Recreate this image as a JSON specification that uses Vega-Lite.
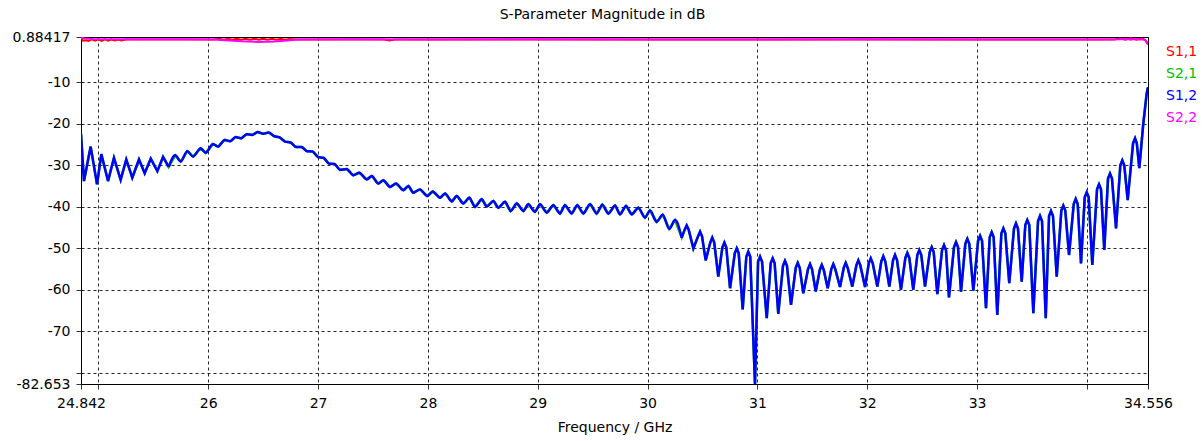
{
  "$schema": "https://vega.github.io/schema/vega-lite/v6.json",
  "width": 1067,
  "height": 347,
  "autosize": {"type": "none"},
  "padding": {"left": 81, "top": 37, "right": 54, "bottom": 57},
  "background": "#ffffff",
  "config": {
    "font": "DejaVu Sans",
    "view": {"stroke": "#000000", "strokeWidth": 1},
    "axis": {
      "labelFont": "DejaVu Sans", "labelFontSize": 14, "labelColor": "#000000",
      "titleFont": "DejaVu Sans", "titleFontSize": 14, "titleFontWeight": "normal", "titleColor": "#000000",
      "domainColor": "#000000", "tickColor": "#333333", "tickSize": 5,
      "grid": true, "gridColor": "#000000", "gridDash": [3, 3], "gridOpacity": 0.85, "gridWidth": 1,
      "labelOverlap": false, "labelFlush": false
    }
  },
  "title": {"text": "S-Parameter Magnitude in dB", "font": "DejaVu Sans", "fontSize": 14, "fontWeight": "normal", "color": "#000000", "anchor": "middle", "dx": -12, "offset": 8},
  "data": {"values": [
    {"f":24.842,"db":-22.4,"s":"S1,2"},{"f":24.869,"db":-33.8,"s":"S1,2"},{"f":24.930,"db":-25.5,"s":"S1,2"},{"f":24.988,"db":-34.6,"s":"S1,2"},
    {"f":25.027,"db":-27.3,"s":"S1,2"},{"f":25.088,"db":-33.8,"s":"S1,2"},{"f":25.142,"db":-28.2,"s":"S1,2"},{"f":25.203,"db":-33.5,"s":"S1,2"},
    {"f":25.254,"db":-28.6,"s":"S1,2"},{"f":25.309,"db":-33.0,"s":"S1,2"},{"f":25.370,"db":-28.6,"s":"S1,2"},{"f":25.422,"db":-31.9,"s":"S1,2"},
    {"f":25.477,"db":-28.4,"s":"S1,2"},{"f":25.537,"db":-31.4,"s":"S1,2"},{"f":25.589,"db":-28.0,"s":"S1,2"},{"f":25.640,"db":-30.4,"s":"S1,2"},
    {"f":25.700,"db":-27.6,"s":"S1,2"},{"f":25.750,"db":-29.1,"s":"S1,2"},{"f":25.810,"db":-26.6,"s":"S1,2"},{"f":25.862,"db":-27.9,"s":"S1,2"},
    {"f":25.932,"db":-25.9,"s":"S1,2"},{"f":25.977,"db":-27.0,"s":"S1,2"},{"f":26.044,"db":-24.9,"s":"S1,2"},{"f":26.089,"db":-25.5,"s":"S1,2"},
    {"f":26.150,"db":-23.9,"s":"S1,2"},{"f":26.20,"db":-24.2,"s":"S1,2"},{"f":26.25,"db":-23.2,"s":"S1,2"},{"f":26.30,"db":-23.5,"s":"S1,2"},
    {"f":26.35,"db":-22.5,"s":"S1,2"},{"f":26.40,"db":-22.7,"s":"S1,2"},{"f":26.45,"db":-22.0,"s":"S1,2"},{"f":26.50,"db":-22.4,"s":"S1,2"},
    {"f":26.55,"db":-22.1,"s":"S1,2"},{"f":26.60,"db":-23.0,"s":"S1,2"},{"f":26.65,"db":-23.3,"s":"S1,2"},{"f":26.70,"db":-24.3,"s":"S1,2"},
    {"f":26.75,"db":-24.5,"s":"S1,2"},{"f":26.80,"db":-25.6,"s":"S1,2"},{"f":26.85,"db":-25.6,"s":"S1,2"},{"f":26.90,"db":-26.6,"s":"S1,2"},
    {"f":26.95,"db":-26.7,"s":"S1,2"},{"f":27.00,"db":-28.0,"s":"S1,2"},{"f":27.05,"db":-28.2,"s":"S1,2"},{"f":27.10,"db":-29.6,"s":"S1,2"},
    {"f":27.15,"db":-29.7,"s":"S1,2"},{"f":27.20,"db":-31.1,"s":"S1,2"},{"f":27.261,"db":-30.9,"s":"S1,2"},{"f":27.321,"db":-32.4,"s":"S1,2"},
    {"f":27.376,"db":-31.8,"s":"S1,2"},{"f":27.443,"db":-33.4,"s":"S1,2"},{"f":27.489,"db":-32.6,"s":"S1,2"},{"f":27.549,"db":-34.4,"s":"S1,2"},
    {"f":27.594,"db":-33.6,"s":"S1,2"},{"f":27.655,"db":-35.2,"s":"S1,2"},{"f":27.710,"db":-34.4,"s":"S1,2"},{"f":27.776,"db":-36.0,"s":"S1,2"},
    {"f":27.822,"db":-35.0,"s":"S1,2"},{"f":27.867,"db":-36.6,"s":"S1,2"},{"f":27.928,"db":-35.8,"s":"S1,2"},{"f":27.995,"db":-37.4,"s":"S1,2"},
    {"f":28.044,"db":-36.3,"s":"S1,2"},{"f":28.110,"db":-37.8,"s":"S1,2"},{"f":28.156,"db":-36.8,"s":"S1,2"},{"f":28.217,"db":-38.7,"s":"S1,2"},
    {"f":28.262,"db":-37.4,"s":"S1,2"},{"f":28.323,"db":-39.2,"s":"S1,2"},{"f":28.377,"db":-37.8,"s":"S1,2"},{"f":28.429,"db":-40.0,"s":"S1,2"},
    {"f":28.490,"db":-38.2,"s":"S1,2"},{"f":28.536,"db":-39.9,"s":"S1,2"},{"f":28.596,"db":-38.6,"s":"S1,2"},{"f":28.641,"db":-40.2,"s":"S1,2"},
    {"f":28.702,"db":-38.8,"s":"S1,2"},{"f":28.754,"db":-41.0,"s":"S1,2"},{"f":28.809,"db":-39.2,"s":"S1,2"},{"f":28.869,"db":-41.0,"s":"S1,2"},
    {"f":28.914,"db":-39.4,"s":"S1,2"},{"f":28.975,"db":-41.2,"s":"S1,2"},{"f":29.021,"db":-39.4,"s":"S1,2"},{"f":29.082,"db":-41.4,"s":"S1,2"},
    {"f":29.142,"db":-39.6,"s":"S1,2"},{"f":29.203,"db":-41.6,"s":"S1,2"},{"f":29.248,"db":-39.6,"s":"S1,2"},{"f":29.309,"db":-41.6,"s":"S1,2"},
    {"f":29.360,"db":-39.6,"s":"S1,2"},{"f":29.415,"db":-41.6,"s":"S1,2"},{"f":29.476,"db":-39.4,"s":"S1,2"},{"f":29.537,"db":-41.6,"s":"S1,2"},
    {"f":29.588,"db":-39.5,"s":"S1,2"},{"f":29.643,"db":-41.6,"s":"S1,2"},{"f":29.704,"db":-39.7,"s":"S1,2"},{"f":29.749,"db":-41.8,"s":"S1,2"},
    {"f":29.804,"db":-39.8,"s":"S1,2"},{"f":29.856,"db":-41.8,"s":"S1,2"},{"f":29.916,"db":-40.2,"s":"S1,2"},{"f":29.977,"db":-42.6,"s":"S1,2"},
    {"f":30.022,"db":-40.9,"s":"S1,2"},{"f":30.083,"db":-43.6,"s":"S1,2"},{"f":30.138,"db":-41.9,"s":"S1,2"},{"f":30.198,"db":-45.3,"s":"S1,2"},
    {"f":30.250,"db":-43.2,"s":"S1,2"},{"f":30.311,"db":-47.4,"s":"S1,2"},
    {"f":30.338,"db":-45.5,"s":"S1,2"},{"f":30.356,"db":-44.5,"s":"S1,2"},{"f":30.374,"db":-45.5,"s":"S1,2"},{"f":30.417,"db":-50.0,"s":"S1,2"},
    {"f":30.460,"db":-47.1,"s":"S1,2"},{"f":30.478,"db":-46.0,"s":"S1,2"},{"f":30.496,"db":-47.1,"s":"S1,2"},{"f":30.529,"db":-52.9,"s":"S1,2"},
    {"f":30.571,"db":-48.6,"s":"S1,2"},{"f":30.589,"db":-47.4,"s":"S1,2"},{"f":30.607,"db":-48.6,"s":"S1,2"},{"f":30.644,"db":-56.8,"s":"S1,2"},
    {"f":30.681,"db":-49.8,"s":"S1,2"},{"f":30.699,"db":-48.6,"s":"S1,2"},{"f":30.717,"db":-49.8,"s":"S1,2"},{"f":30.751,"db":-59.6,"s":"S1,2"},
    {"f":30.794,"db":-51.2,"s":"S1,2"},{"f":30.812,"db":-50.0,"s":"S1,2"},{"f":30.830,"db":-51.2,"s":"S1,2"},{"f":30.866,"db":-64.7,"s":"S1,2"},
    {"f":30.899,"db":-52.0,"s":"S1,2"},{"f":30.917,"db":-50.8,"s":"S1,2"},{"f":30.935,"db":-52.0,"s":"S1,2"},{"f":30.978,"db":-82.653,"s":"S1,2"},
    {"f":31.006,"db":-53.2,"s":"S1,2"},{"f":31.024,"db":-52.0,"s":"S1,2"},{"f":31.042,"db":-53.2,"s":"S1,2"},{"f":31.085,"db":-66.8,"s":"S1,2"},
    {"f":31.121,"db":-53.6,"s":"S1,2"},{"f":31.139,"db":-52.4,"s":"S1,2"},{"f":31.157,"db":-53.6,"s":"S1,2"},{"f":31.190,"db":-65.8,"s":"S1,2"},
    {"f":31.233,"db":-54.2,"s":"S1,2"},{"f":31.251,"db":-53.0,"s":"S1,2"},{"f":31.269,"db":-54.2,"s":"S1,2"},{"f":31.306,"db":-63.6,"s":"S1,2"},
    {"f":31.349,"db":-54.7,"s":"S1,2"},{"f":31.367,"db":-53.5,"s":"S1,2"},{"f":31.385,"db":-54.7,"s":"S1,2"},{"f":31.418,"db":-60.8,"s":"S1,2"},
    {"f":31.461,"db":-55.0,"s":"S1,2"},{"f":31.479,"db":-53.8,"s":"S1,2"},{"f":31.497,"db":-55.0,"s":"S1,2"},{"f":31.531,"db":-60.4,"s":"S1,2"},
    {"f":31.568,"db":-55.2,"s":"S1,2"},{"f":31.586,"db":-54.0,"s":"S1,2"},{"f":31.604,"db":-55.2,"s":"S1,2"},{"f":31.640,"db":-59.6,"s":"S1,2"},
    {"f":31.673,"db":-55.0,"s":"S1,2"},{"f":31.691,"db":-53.8,"s":"S1,2"},{"f":31.709,"db":-55.0,"s":"S1,2"},{"f":31.752,"db":-59.3,"s":"S1,2"},
    {"f":31.786,"db":-54.7,"s":"S1,2"},{"f":31.804,"db":-53.5,"s":"S1,2"},{"f":31.822,"db":-54.7,"s":"S1,2"},{"f":31.864,"db":-59.2,"s":"S1,2"},
    {"f":31.901,"db":-54.1,"s":"S1,2"},{"f":31.919,"db":-52.9,"s":"S1,2"},{"f":31.937,"db":-54.1,"s":"S1,2"},{"f":31.980,"db":-59.3,"s":"S1,2"},
    {"f":32.014,"db":-53.6,"s":"S1,2"},{"f":32.032,"db":-52.4,"s":"S1,2"},{"f":32.050,"db":-53.6,"s":"S1,2"},{"f":32.092,"db":-59.2,"s":"S1,2"},
    {"f":32.128,"db":-53.1,"s":"S1,2"},{"f":32.146,"db":-51.9,"s":"S1,2"},{"f":32.164,"db":-53.1,"s":"S1,2"},{"f":32.201,"db":-59.2,"s":"S1,2"},
    {"f":32.235,"db":-52.8,"s":"S1,2"},{"f":32.253,"db":-51.6,"s":"S1,2"},{"f":32.271,"db":-52.8,"s":"S1,2"},{"f":32.307,"db":-60.0,"s":"S1,2"},
    {"f":32.347,"db":-52.3,"s":"S1,2"},{"f":32.365,"db":-51.1,"s":"S1,2"},{"f":32.383,"db":-52.3,"s":"S1,2"},{"f":32.419,"db":-60.0,"s":"S1,2"},
    {"f":32.456,"db":-51.6,"s":"S1,2"},{"f":32.474,"db":-50.4,"s":"S1,2"},{"f":32.492,"db":-51.6,"s":"S1,2"},{"f":32.526,"db":-59.2,"s":"S1,2"},
    {"f":32.569,"db":-50.9,"s":"S1,2"},{"f":32.587,"db":-49.7,"s":"S1,2"},{"f":32.605,"db":-50.9,"s":"S1,2"},{"f":32.638,"db":-61.0,"s":"S1,2"},
    {"f":32.681,"db":-50.4,"s":"S1,2"},{"f":32.699,"db":-49.2,"s":"S1,2"},{"f":32.717,"db":-50.4,"s":"S1,2"},{"f":32.744,"db":-61.8,"s":"S1,2"},
    {"f":32.790,"db":-49.7,"s":"S1,2"},{"f":32.808,"db":-48.5,"s":"S1,2"},{"f":32.826,"db":-49.7,"s":"S1,2"},{"f":32.854,"db":-60.4,"s":"S1,2"},
    {"f":32.893,"db":-48.9,"s":"S1,2"},{"f":32.911,"db":-47.7,"s":"S1,2"},{"f":32.929,"db":-48.9,"s":"S1,2"},{"f":32.966,"db":-60.2,"s":"S1,2"},
    {"f":33.009,"db":-48.2,"s":"S1,2"},{"f":33.027,"db":-47.0,"s":"S1,2"},{"f":33.045,"db":-48.2,"s":"S1,2"},{"f":33.081,"db":-64.4,"s":"S1,2"},
    {"f":33.115,"db":-47.3,"s":"S1,2"},{"f":33.133,"db":-46.1,"s":"S1,2"},{"f":33.151,"db":-47.3,"s":"S1,2"},{"f":33.184,"db":-66.0,"s":"S1,2"},
    {"f":33.221,"db":-46.4,"s":"S1,2"},{"f":33.239,"db":-45.2,"s":"S1,2"},{"f":33.257,"db":-46.4,"s":"S1,2"},{"f":33.293,"db":-58.4,"s":"S1,2"},
    {"f":33.336,"db":-45.2,"s":"S1,2"},{"f":33.354,"db":-44.0,"s":"S1,2"},{"f":33.372,"db":-45.2,"s":"S1,2"},{"f":33.406,"db":-58.0,"s":"S1,2"},
    {"f":33.439,"db":-44.4,"s":"S1,2"},{"f":33.457,"db":-43.2,"s":"S1,2"},{"f":33.475,"db":-44.4,"s":"S1,2"},{"f":33.512,"db":-65.6,"s":"S1,2"},
    {"f":33.555,"db":-43.4,"s":"S1,2"},{"f":33.573,"db":-42.2,"s":"S1,2"},{"f":33.591,"db":-43.4,"s":"S1,2"},{"f":33.625,"db":-66.8,"s":"S1,2"},
    {"f":33.655,"db":-42.2,"s":"S1,2"},{"f":33.673,"db":-41.0,"s":"S1,2"},{"f":33.691,"db":-42.2,"s":"S1,2"},{"f":33.725,"db":-56.8,"s":"S1,2"},
    {"f":33.767,"db":-40.9,"s":"S1,2"},{"f":33.785,"db":-39.7,"s":"S1,2"},{"f":33.803,"db":-40.9,"s":"S1,2"},{"f":33.837,"db":-51.6,"s":"S1,2"},
    {"f":33.880,"db":-39.3,"s":"S1,2"},{"f":33.898,"db":-38.1,"s":"S1,2"},{"f":33.916,"db":-39.3,"s":"S1,2"},{"f":33.946,"db":-53.6,"s":"S1,2"},
    {"f":33.980,"db":-37.7,"s":"S1,2"},{"f":33.998,"db":-36.5,"s":"S1,2"},{"f":34.016,"db":-37.7,"s":"S1,2"},{"f":34.049,"db":-54.0,"s":"S1,2"},
    {"f":34.092,"db":-35.8,"s":"S1,2"},{"f":34.110,"db":-34.6,"s":"S1,2"},{"f":34.128,"db":-35.8,"s":"S1,2"},{"f":34.158,"db":-50.4,"s":"S1,2"},
    {"f":34.192,"db":-33.2,"s":"S1,2"},{"f":34.210,"db":-32.0,"s":"S1,2"},{"f":34.228,"db":-33.2,"s":"S1,2"},{"f":34.265,"db":-45.2,"s":"S1,2"},
    {"f":34.304,"db":-30.0,"s":"S1,2"},{"f":34.322,"db":-28.8,"s":"S1,2"},{"f":34.340,"db":-30.0,"s":"S1,2"},{"f":34.371,"db":-38.4,"s":"S1,2"},
    {"f":34.420,"db":-24.7,"s":"S1,2"},{"f":34.438,"db":-23.5,"s":"S1,2"},{"f":34.454,"db":-24.7,"s":"S1,2"},{"f":34.477,"db":-30.7,"s":"S1,2"},
    {"f":34.513,"db":-20.0,"s":"S1,2"},{"f":34.544,"db":-12.7,"s":"S1,2"},{"f":34.556,"db":-11.2,"s":"S1,2"},

    {"f":24.842,"db":0.88,"s":"S2,2"},{"f":24.87,"db":0.55,"s":"S2,2"},{"f":24.95,"db":0.4,"s":"S2,2"},{"f":25.3,"db":0.35,"s":"S2,2"},
    {"f":25.8,"db":0.32,"s":"S2,2"},{"f":26.05,"db":0.3,"s":"S2,2"},{"f":26.15,"db":0.1,"s":"S2,2"},{"f":26.3,"db":-0.15,"s":"S2,2"},
    {"f":26.45,"db":-0.3,"s":"S2,2"},{"f":26.6,"db":-0.2,"s":"S2,2"},{"f":26.72,"db":0.05,"s":"S2,2"},{"f":26.82,"db":0.3,"s":"S2,2"},
    {"f":27.3,"db":0.32,"s":"S2,2"},{"f":28.0,"db":0.3,"s":"S2,2"},{"f":29.0,"db":0.32,"s":"S2,2"},{"f":30.0,"db":0.3,"s":"S2,2"},
    {"f":31.0,"db":0.3,"s":"S2,2"},{"f":32.0,"db":0.32,"s":"S2,2"},{"f":33.0,"db":0.3,"s":"S2,2"},{"f":34.0,"db":0.3,"s":"S2,2"},
    {"f":34.3,"db":0.32,"s":"S2,2"},{"f":34.36,"db":0.45,"s":"S2,2"},{"f":34.40,"db":0.2,"s":"S2,2"},{"f":34.44,"db":0.45,"s":"S2,2"},
    {"f":34.48,"db":0.3,"s":"S2,2"},{"f":34.51,"db":0.35,"s":"S2,2"},{"f":34.535,"db":0.0,"s":"S2,2"},{"f":34.556,"db":-1.0,"s":"S2,2"},

    {"f":24.842,"db":0.7,"s":"S1,1"},{"f":24.86,"db":0.0,"s":"S1,1"},{"f":24.89,"db":0.1,"s":"S1,1"},{"f":24.91,"db":-0.05,"s":"S1,1"},
    {"f":24.94,"db":0.3,"s":"S1,1"},{"f":24.97,"db":0.0,"s":"S1,1"},{"f":25.00,"db":0.3,"s":"S1,1"},{"f":25.03,"db":-0.05,"s":"S1,1"},
    {"f":25.06,"db":0.3,"s":"S1,1"},{"f":25.09,"db":0.0,"s":"S1,1"},{"f":25.12,"db":0.3,"s":"S1,1"},{"f":25.15,"db":0.05,"s":"S1,1"},
    {"f":25.18,"db":0.3,"s":"S1,1"},{"f":25.21,"db":0.05,"s":"S1,1"},{"f":25.25,"db":0.3,"s":"S1,1"},{"f":26.05,"db":0.3,"s":"S1,1"},
    {"f":26.10,"db":0.45,"s":"S1,1"},{"f":26.14,"db":0.2,"s":"S1,1"},{"f":26.18,"db":0.45,"s":"S1,1"},{"f":26.22,"db":0.25,"s":"S1,1"},
    {"f":26.26,"db":0.45,"s":"S1,1"},{"f":26.30,"db":0.25,"s":"S1,1"},{"f":26.34,"db":0.45,"s":"S1,1"},{"f":26.38,"db":0.25,"s":"S1,1"},
    {"f":26.42,"db":0.45,"s":"S1,1"},{"f":26.46,"db":0.25,"s":"S1,1"},{"f":26.50,"db":0.45,"s":"S1,1"},{"f":26.54,"db":0.25,"s":"S1,1"},
    {"f":26.58,"db":0.45,"s":"S1,1"},{"f":26.62,"db":0.25,"s":"S1,1"},{"f":26.66,"db":0.45,"s":"S1,1"},{"f":26.70,"db":0.25,"s":"S1,1"},
    {"f":26.74,"db":0.4,"s":"S1,1"},{"f":26.80,"db":0.3,"s":"S1,1"},{"f":27.6,"db":0.3,"s":"S1,1"},{"f":27.65,"db":0.05,"s":"S1,1"},
    {"f":27.7,"db":0.3,"s":"S1,1"},{"f":34.25,"db":0.3,"s":"S1,1"},{"f":34.3,"db":0.5,"s":"S1,1"},{"f":34.35,"db":0.2,"s":"S1,1"},
    {"f":34.4,"db":0.55,"s":"S1,1"},{"f":34.45,"db":0.2,"s":"S1,1"},{"f":34.5,"db":0.5,"s":"S1,1"},{"f":34.53,"db":0.2,"s":"S1,1"},
    {"f":34.556,"db":-0.8,"s":"S1,1"}
  ]},
  "encoding": {
    "x": {
      "field": "f", "type": "quantitative",
      "scale": {"domain": [24.842, 34.556], "nice": false, "zero": false},
      "axis": {
        "title": "Frequency / GHz",
        "values": [24.842, 25, 26, 27, 28, 29, 30, 31, 32, 33, 34, 34.556],
        "labelExpr": "datum.value == 25 || datum.value == 34 ? '' : '' + datum.value",
        "labelPadding": 7, "titlePadding": 10
      }
    },
    "y": {
      "field": "db", "type": "quantitative",
      "scale": {"domain": [-82.653, 0.88417], "nice": false, "zero": false},
      "axis": {
        "title": null,
        "values": [0.88417, -10, -20, -30, -40, -50, -60, -70, -80, -82.653],
        "labelExpr": "datum.value == -80 ? '' : '' + datum.value",
        "labelPadding": 6
      }
    }
  },
  "layer": [
    {
      "transform": [{"filter": "datum.s == 'S1,1'"}],
      "mark": {"type": "line", "strokeWidth": 2, "clip": true},
      "encoding": {
        "color": {"field": "s", "type": "nominal",
          "scale": {"domain": ["S1,1", "S2,1", "S1,2", "S2,2"], "range": ["#ff0000", "#00c000", "#0000ff", "#ff00ff"]},
          "legend": {"orient": "none", "legendX": 1071, "legendY": 8, "title": null, "padding": 0,
            "symbolSize": 0, "symbolOpacity": 0, "symbolStrokeWidth": 0, "labelOffset": 0, "labelLimit": 100,
            "labelFont": "DejaVu Sans", "labelFontSize": 14, "rowPadding": 8,
            "encode": {"labels": {"update": {"fill": {"scale": "color", "field": "value"}}}}}
        }
      }
    },
    {
      "transform": [{"filter": "datum.s == 'S1,2'"}],
      "mark": {"type": "line", "strokeWidth": 2.5, "clip": true},
      "encoding": {"color": {"datum": "S2,1", "type": "nominal"}}
    },
    {
      "transform": [{"filter": "datum.s == 'S1,2' && datum.f <= 25.64"}],
      "mark": {"type": "line", "strokeWidth": 2.5, "clip": true},
      "encoding": {"color": {"field": "s", "type": "nominal"}}
    },
    {
      "transform": [{"filter": "datum.s == 'S1,2' && datum.f >= 25.64 && datum.f <= 30.311"}],
      "mark": {"type": "line", "strokeWidth": 2.5, "clip": true, "interpolate": "monotone"},
      "encoding": {"color": {"field": "s", "type": "nominal"}}
    },
    {
      "transform": [{"filter": "datum.s == 'S1,2' && datum.f >= 30.311"}],
      "mark": {"type": "line", "strokeWidth": 2.5, "clip": true},
      "encoding": {"color": {"field": "s", "type": "nominal"}}
    },
    {
      "transform": [{"filter": "datum.s == 'S2,2'"}],
      "mark": {"type": "line", "strokeWidth": 2, "clip": true},
      "encoding": {"color": {"field": "s", "type": "nominal"}}
    }
  ]
}
